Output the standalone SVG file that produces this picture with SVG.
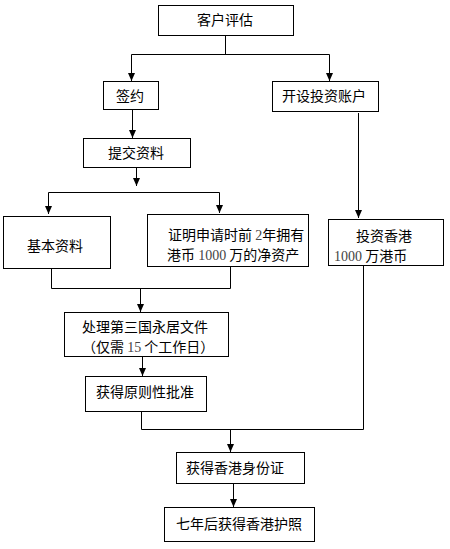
<svg xmlns="http://www.w3.org/2000/svg" width="450" height="549" viewBox="0 0 450 549">
<style>
.box{fill:#fff;stroke:#000;stroke-width:1}
.t{font-family:"Noto Sans CJK SC","Noto Sans CJK TC",sans-serif;font-size:14px;fill:#000}
.c{text-anchor:middle}
.d{font-family:"Liberation Serif",serif;fill:#444}
.ln{fill:none;stroke:#000;stroke-width:1}
</style>
<defs>
<marker id="a" markerUnits="userSpaceOnUse" markerWidth="10" markerHeight="10" viewBox="-9 -5 10 10" refX="0" refY="0" orient="auto">
<path d="M-8,-3.5 L0,0 L-8,3.5 z" fill="#000"/>
</marker>
</defs>
<g id="connectors">
<path class="ln" d="M225.5,35 V54.5 M131.5,54.5 H329.5"/>
<path class="ln" d="M131.5,54.5 V81" marker-end="url(#a)"/>
<path class="ln" d="M329.5,54.5 V81" marker-end="url(#a)"/>
<path class="ln" d="M132.5,109 V138" marker-end="url(#a)"/>
<path class="ln" d="M136.5,167 V186" marker-end="url(#a)"/>
<path class="ln" d="M48.5,192.5 H219.5"/>
<path class="ln" d="M48.5,192.5 V214" marker-end="url(#a)"/>
<path class="ln" d="M219.5,192.5 V213" marker-end="url(#a)"/>
<path class="ln" d="M358.5,113 V218" marker-end="url(#a)"/>
<path class="ln" d="M51.5,268 V288.5 H230.5 V266"/>
<path class="ln" d="M140.5,288.5 V312" marker-end="url(#a)"/>
<path class="ln" d="M142.5,356 V376" marker-end="url(#a)"/>
<path class="ln" d="M141.5,411 V429.5 H363.5 V265"/>
<path class="ln" d="M230.5,429.5 V452" marker-end="url(#a)"/>
<path class="ln" d="M233.5,483 V507" marker-end="url(#a)"/>
</g>
<g id="n1"><rect class="box" x="158.5" y="5.5" width="135" height="30"/><text class="t c" x="225" y="25">客户评估</text></g>
<g id="n2"><rect class="box" x="103.5" y="81.5" width="55" height="28"/><text class="t c" x="130" y="101">签约</text></g>
<g id="n3"><rect class="box" x="272.5" y="81.5" width="106" height="30"/><text class="t c" x="324" y="101">开设投资账户</text></g>
<g id="n4"><rect class="box" x="83.5" y="138.5" width="107" height="29"/><text class="t c" x="136" y="158">提交资料</text></g>
<g id="n5"><rect class="box" x="3.5" y="216.5" width="107" height="52"/><text class="t c" x="55" y="251">基本资料</text></g>
<g id="n6"><rect class="box" x="147.5" y="214.5" width="161" height="52"/><text class="t" x="168" y="240">证明申请时前 <tspan class="d">2</tspan>年拥有</text><text class="t" x="167" y="260">港币 <tspan class="d">1000</tspan> 万的净资产</text></g>
<g id="n7"><rect class="box" x="328.5" y="219.5" width="115" height="46"/><text class="t c" x="384" y="241">投资香港</text><text class="t" x="334" y="261"><tspan class="d">1000</tspan> 万港币</text></g>
<g id="n8"><rect class="box" x="64.5" y="312.5" width="164" height="44"/><text class="t c" x="145" y="332">处理第三国永居文件</text><text class="t" x="82" y="352">（仅需 <tspan class="d">15</tspan> 个工作日）</text></g>
<g id="n9"><rect class="box" x="85.5" y="376.5" width="121" height="35"/><text class="t c" x="145" y="397">获得原则性批准</text></g>
<g id="n10"><rect class="box" x="176.5" y="452.5" width="128" height="31"/><text class="t c" x="235" y="473">获得香港身份证</text></g>
<g id="n11"><rect class="box" x="164.5" y="507.5" width="150" height="34"/><text class="t c" x="239" y="529">七年后获得香港护照</text></g>
</svg>
